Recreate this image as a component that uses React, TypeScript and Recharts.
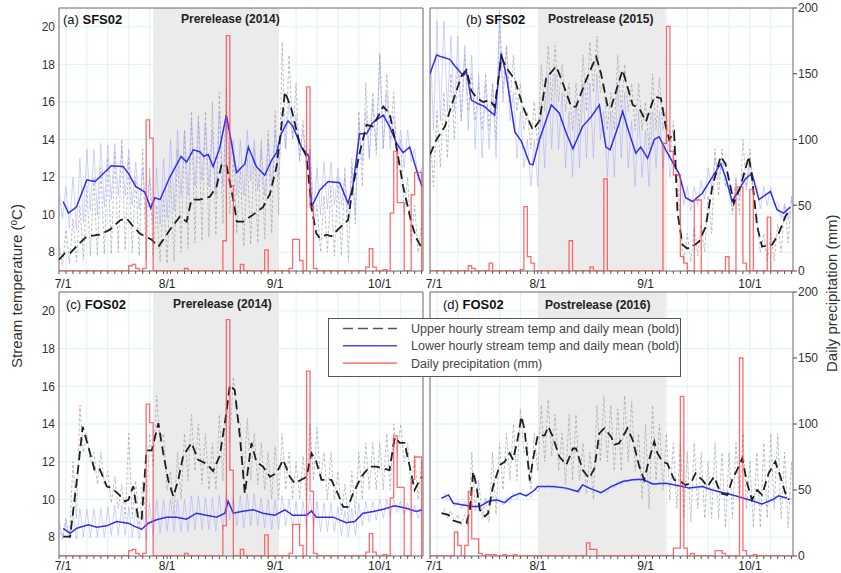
import React from 'react';
import { LineChart, Line, XAxis, YAxis, CartesianGrid, ReferenceArea, Legend } from 'recharts';

const FONT = '"Liberation Sans", Arial, Helvetica, sans-serif';

// ---- axes (x = days since July 1) ----
const X_DOMAIN: [number, number] = [0, 104.4];
const MONTH_TICKS = [0, 31, 62, 92];
const MONTH_LABELS = ['7/1', '8/1', '9/1', '10/1'];
const TEMP_TICKS = [8, 10, 12, 14, 16, 18, 20];
const PRECIP_TICKS = [0, 50, 100, 150, 200];
const HOURLY_STEP = 2;

// ---- shaded release periods (days since July 1) ----
const SHADE_2014: [number, number] = [27, 63.1];
const SHADE_POST: [number, number] = [31, 67.7];

// ---- (a) SFS02 2014 ----
const aUpperMean: [number, number][] = [[0,7.6],[1.7,7.95],[3.2,7.95],[6,8.5],[8,8.85],[11.7,8.93],[14.6,9.2],[17.5,9.7],[19.4,9.8],[21.3,9.37],[23.2,9.0],[24.6,8.85],[26.6,8.66],[28.5,8.3],[29.9,8.66],[31.8,9.2],[34.7,9.9],[36.6,9.63],[38,10.8],[40.4,10.8],[43.3,10.96],[45.2,11.5],[46.6,12.65],[48,12.65],[50,10.8],[51,9.63],[52.8,9.63],[55.7,10.0],[58.5,10.4],[60.5,11.1],[62.4,12.56],[63.8,14.7],[64.8,16.55],[66.7,15.6],[69,13.8],[71,13.1],[72.4,10.4],[73.8,9.0],[74.8,8.75],[76.7,8.93],[78.1,8.85],[80.5,9.3],[82.9,9.7],[84.3,11.5],[86.2,13.27],[88.2,14.78],[90,14.7],[93,15.75],[94.8,15.4],[96.8,13.6],[98.7,11.5],[101.1,9.55],[102.5,8.75],[104.1,8.2]];
const aLowerMean: [number, number][] = [[1.2,10.7],[2.7,10.08],[5,10.4],[8,11.85],[10.3,11.76],[11.7,12.0],[15,12.6],[18.4,12.56],[19.9,12.2],[22,11.5],[24.6,11.2],[26.3,10.35],[27.5,10.9],[29,10.8],[31.8,12.0],[35,13.1],[36.6,12.8],[38.5,13.45],[40.4,13.35],[41.5,13.1],[42.8,13.2],[44.2,12.56],[46.1,13.55],[48,15.3],[49.5,13.8],[50.9,12.24],[53.3,12.7],[54.3,13.6],[56.6,12.56],[59,12.1],[61,12.9],[62.4,13.3],[63.8,14.33],[65.7,15.0],[67.1,14.7],[69.5,13.6],[71.7,13.1],[72.4,10.4],[74.8,11.3],[77.2,11.76],[80.5,11.7],[82.9,10.6],[84.3,11.5],[86.2,14.3],[88.2,14.3],[90,14.9],[93,15.3],[94.8,14.7],[96.8,13.8],[98.7,13.3],[100.6,13.6],[102.5,12.4],[104.1,11.5]];
const aUpperHi = [8.5,9.2,9.8,10.5,11.5,12.0,12.5,13.0,13.3,14.0,13.0,12.0,13.5,12.5,10.5,11.0,12.0,13.5,14.5,15.5,15.3,15.5,16.0,16.5,16.8,13.0,12.5,13.0,13.5,14.0,14.5,15.5,19.2,18.5,17.0,15.0,13.5,10.5,11.0,11.5,12.0,12.5,13.0,15.5,17.0,16.5,18.6,17.5,16.5,14.0,12.0,10.5,9.5];
const aUpperLo = [7.3,7.4,7.5,7.6,7.8,7.8,7.9,7.9,8.0,8.1,8.0,7.8,7.6,7.8,7.5,7.4,7.5,8.0,8.2,8.5,8.6,8.8,8.9,9.5,10.0,9.0,8.3,8.4,8.5,8.7,9.0,10.0,13.5,14.0,12.8,12.5,9.5,8.0,8.0,7.8,7.8,7.5,9.5,11.5,13.0,13.2,13.5,14.0,12.5,10.0,8.5,8.0,7.9];
const aLowerHi = [11.3,11.5,12.0,13.0,13.5,13.5,13.8,13.7,13.8,13.6,13.5,12.8,12.5,12.0,12.5,13.0,14.0,14.5,14.5,15.0,15.0,14.8,14.5,15.5,15.5,14.0,14.0,14.5,14.0,13.5,14.0,14.5,15.5,16.0,15.3,14.5,13.5,12.5,12.8,12.8,12.5,12.0,12.5,15.0,15.5,16.0,18.5,16.5,15.3,14.5,14.5,13.5,12.5];
const aLowerLo = [9.8,9.3,9.2,9.6,10.2,10.0,10.4,10.8,11.0,11.0,10.5,10.3,10.0,9.5,9.5,9.8,10.2,11.0,11.0,11.5,11.8,11.5,11.0,11.5,12.5,11.0,11.0,11.8,11.3,11.0,11.5,12.0,13.5,14.0,13.0,12.5,10.3,10.0,10.3,10.5,10.5,9.8,10.0,12.8,13.0,13.5,13.5,13.5,13.0,12.5,12.8,11.8,11.0];

// ---- (b) SFS02 2015 ----
const bUpperMean: [number, number][] = [[0,13.2],[1.9,14.0],[4.3,14.7],[6.7,16.1],[9.1,17.4],[10.5,17.7],[11.9,16.6],[13.4,16.2],[15.3,16.0],[17.2,16.1],[18.6,15.75],[20.5,18.4],[22,17.8],[24.4,17.2],[26.7,15.75],[29.6,14.5],[31.5,15.0],[33.4,17.26],[36.3,17.9],[38.2,17.0],[40.6,15.75],[42,15.75],[44.9,17.17],[47.8,18.4],[49.2,17.5],[51.1,15.75],[52,15.66],[55.4,17.7],[58.3,15.84],[60.2,15.66],[62.1,14.95],[64.5,16.28],[66.4,16.2],[67.8,14.7],[68.8,14.0],[70.2,14.4],[71.2,10.1],[72.6,8.4],[74,8.2],[75.5,8.3],[77.4,8.57],[79.3,9.37],[81.2,11.5],[83.6,13.1],[85,12.7],[86.4,11.5],[87.4,10.6],[89.3,11.5],[91.7,13.1],[92.6,12.0],[94.1,9.37],[95.5,8.3],[98.4,8.4],[100.3,9.0],[102.2,9.9],[103.6,10.26]];
const bLowerMean: [number, number][] = [[0,17.5],[1.9,18.5],[3.3,18.4],[5.7,18.27],[7.2,17.9],[9.6,17.4],[10.5,17.6],[11.9,16.1],[13.8,15.9],[15.8,15.75],[17.2,15.5],[18.6,15.3],[20.5,18.6],[22,17.35],[24.4,14.4],[26.3,13.9],[28.7,12.7],[29.6,12.65],[31.5,14.0],[34.9,15.84],[37.2,15.4],[39.2,14.33],[41.1,13.5],[43.9,14.7],[46.3,15.2],[48.7,15.84],[50.6,13.6],[51.8,13.45],[54.4,14.87],[55.4,15.5],[57.3,14.33],[59.2,13.27],[60.6,13.6],[62.6,13.0],[64.5,14.0],[65.9,14.15],[67.8,13.45],[70.2,12.65],[71.6,12.2],[73.5,10.9],[75.5,10.7],[78.3,11.14],[81.2,12.0],[83.6,12.7],[85,12.0],[86.9,10.7],[88.8,11.3],[90.7,11.9],[92.6,12.2],[94.6,10.8],[96.5,11.05],[97.9,11.23],[99.8,10.26],[101.7,10.08],[103.6,10.4]];
const bUpperHi = [14.5,15.5,16.5,17.5,18.0,18.5,17.5,17.0,17.5,17.0,20.5,19.0,18.5,17.0,15.5,16.0,18.0,19.0,19.0,18.0,17.0,17.0,18.5,19.2,19.5,17.0,16.5,18.5,18.0,17.0,17.0,16.0,17.5,17.3,15.5,15.0,9.5,9.0,9.3,9.5,11.0,13.5,13.5,12.0,12.0,14.0,13.5,10.0,9.0,9.0,9.5,10.5,11.0];
const bUpperLo = [11.5,12.5,13.0,14.0,15.0,15.5,15.0,14.5,14.5,14.0,16.5,16.0,15.5,14.5,13.5,13.5,15.5,16.0,16.0,15.5,14.5,14.5,15.5,16.5,16.5,14.5,14.5,15.5,15.5,14.5,14.5,13.5,14.5,14.5,13.0,12.5,7.5,7.5,7.8,8.0,9.0,11.0,11.5,10.0,10.0,11.5,11.0,8.0,7.5,7.5,8.0,8.5,9.0];
const bLowerHi = [19.5,20.3,20.3,19.5,19.5,19.0,18.5,17.5,17.0,17.0,20.8,19.0,16.5,15.5,14.0,14.0,16.0,17.5,17.5,16.5,15.5,16.0,17.0,17.0,17.5,15.5,15.5,17.0,16.5,15.0,15.5,14.5,15.5,15.5,14.5,13.5,12.0,11.5,11.5,11.8,12.5,13.0,12.8,11.5,11.8,12.3,12.8,11.5,11.5,11.5,10.7,10.6,10.8];
const bLowerLo = [14.5,15.0,15.5,15.5,15.0,14.5,13.5,13.0,13.5,13.0,16.0,15.0,13.0,12.5,11.5,11.5,12.5,13.5,13.5,12.5,12.0,12.5,13.0,13.0,14.0,12.0,12.0,13.0,12.5,11.5,12.0,11.5,12.5,12.5,12.0,11.8,10.5,10.2,10.5,10.8,11.5,12.0,11.5,10.2,10.8,11.3,11.5,10.3,10.5,10.5,9.8,9.7,10.0];

// ---- (c) FOS02 2014 ----
const cUpperMean: [number, number][] = [[1.2,8.03],[3.2,8.03],[5.1,11.0],[6.8,13.86],[8.4,12.8],[10.3,11.5],[11.7,11.6],[13.7,10.7],[15.1,10.6],[17,10.3],[18.9,9.9],[19.9,9.98],[21.3,10.7],[22.7,9.0],[23.7,8.92],[25.1,12.6],[26.6,12.6],[28.5,14.04],[29.9,12.45],[31.3,11.04],[32.8,10.15],[34.2,11.04],[35.6,12.3],[38,13.0],[39.9,12.1],[42.3,11.9],[44.2,11.5],[46.1,12.3],[48,14.57],[49,16.07],[50.4,15.8],[51.9,13.3],[53.3,10.3],[55.2,13.0],[56.6,12.0],[58.5,11.74],[60.5,11.2],[62.4,11.4],[64.3,12.1],[66.2,11.2],[67.6,10.86],[69.5,11.04],[71,11.2],[72.4,12.45],[73.8,12.0],[75.3,11.04],[78.1,11.04],[80,10.3],[81.5,9.6],[82.9,9.6],[84.3,10.3],[86.7,11.2],[89.1,11.74],[91,11.74],[94.8,11.56],[96.3,13.3],[97.7,13.0],[99.1,13.0],[100.6,11.74],[102,10.5],[103,10.86],[104.1,11.2]];
const cLowerMean: [number, number][] = [[1.2,8.47],[3.2,8.2],[5.1,8.47],[8.4,8.65],[10.8,8.53],[13.7,8.6],[16.5,8.83],[19.9,8.74],[21.8,8.56],[23.7,8.42],[25.6,8.74],[28,8.92],[30.8,9.06],[33.7,9.06],[36.6,8.95],[39.4,9.27],[42.3,9.16],[45.2,9.06],[47.6,9.27],[48.5,9.9],[50,9.27],[52.3,9.36],[55.7,9.45],[58.5,9.27],[61.9,9.16],[64.8,9.45],[67.1,9.16],[71,9.16],[72.4,9.39],[73.8,9.06],[78.6,9.06],[82.4,8.77],[84.8,8.83],[87.2,9.27],[90.1,9.36],[93,9.48],[96.3,9.66],[99.6,9.53],[102.5,9.36],[104.1,9.45]];
const cUpperHi = [8.5,9.0,12.0,15.0,13.5,12.5,12.5,11.5,11.2,10.8,13.5,11.0,11.0,13.5,15.5,13.5,11.5,12.5,13.5,14.5,14.0,13.5,13.0,14.5,15.5,16.5,14.0,14.3,13.5,13.0,12.5,12.8,13.5,12.5,12.0,12.3,14.0,13.8,12.5,12.5,11.5,10.8,11.5,12.5,13.0,13.0,13.0,13.5,14.0,14.0,13.0,12.4,12.0];
const cUpperLo = [7.9,7.9,9.0,12.5,12.0,10.8,10.8,9.8,9.5,9.0,9.0,8.5,8.8,11.8,13.0,10.5,9.2,10.0,11.0,11.5,10.8,10.5,10.5,11.0,13.0,14.5,11.0,11.0,10.8,10.5,10.0,10.0,10.5,10.0,10.0,10.0,11.0,11.0,10.0,10.0,9.2,8.8,9.2,10.0,10.5,10.5,10.5,10.5,12.5,12.0,10.5,10.0,10.5];
const cLowerHi = [8.9,8.8,9.3,9.5,9.5,9.5,9.5,9.6,9.7,9.7,9.6,9.5,9.4,9.8,10.0,10.0,10.0,10.0,10.0,10.2,10.2,10.1,10.1,10.2,10.3,10.1,10.2,10.3,10.3,10.1,10.0,10.0,10.2,10.0,9.9,9.9,10.3,9.9,9.8,9.8,9.6,9.4,9.5,9.8,9.9,9.9,10.0,10.0,10.0,9.9,9.8,9.7,9.6];
const cLowerLo = [8.0,7.9,7.9,8.0,8.0,8.0,8.0,8.1,8.1,8.1,8.0,7.9,7.9,8.1,8.2,8.3,8.3,8.3,8.3,8.4,8.4,8.4,8.3,8.4,8.9,8.6,8.5,8.6,8.6,8.5,8.4,8.4,8.6,8.5,8.4,8.4,8.5,8.3,8.3,8.3,8.1,8.0,8.1,8.6,8.8,8.9,9.0,9.1,9.3,9.2,9.1,9.0,9.1];

// ---- (d) FOS02 2016 ----
const dUpperMean: [number, number][] = [[3.3,9.27],[5.3,9.18],[6.7,8.88],[8.6,8.77],[10.5,8.74],[11.5,9.45],[12.4,11.48],[13.4,10.68],[14.3,9.45],[15.8,9.1],[16.7,9.27],[18.1,10.68],[20.1,11.83],[21.5,12.0],[22.9,12.45],[23.9,12.1],[25.3,13.3],[26.3,14.4],[27.2,13.7],[28.7,11.0],[29.6,12.1],[31,13.4],[33,13.4],[34,13.86],[35.3,13.33],[37.2,12.27],[39.2,11.83],[41.1,12.7],[42,12.7],[43.9,11.56],[45.8,11.12],[47.3,11.65],[48.7,13.5],[50.1,13.77],[52.1,13.33],[53,12.9],[54.4,12.98],[56.8,13.77],[58.3,13.15],[60.2,11.74],[61.6,11.04],[63,12.1],[64.5,13.07],[65.4,12.45],[66.9,12.0],[68.3,11.9],[70.2,11.04],[72.1,10.95],[73.5,10.77],[75,10.86],[76.4,11.39],[78.3,11.04],[79.8,10.68],[81.7,11.2],[83.6,10.33],[85.5,10.24],[86.9,11.04],[88.8,11.74],[89.8,12.18],[91.2,10.86],[92.6,9.98],[94.1,10.5],[95.5,10.24],[97.4,11.39],[99.3,12.0],[100.8,11.2],[102.2,10.33],[103.2,9.98]];
const dLowerMean: [number, number][] = [[3.3,10.06],[5.3,10.24],[6.7,9.8],[9.6,9.71],[12.4,9.62],[14.3,9.62],[16.7,9.89],[19.1,9.98],[21.5,9.83],[23.5,10.15],[25.8,10.33],[27.7,10.19],[30.1,10.5],[31,10.68],[35.3,10.68],[39.2,10.6],[42.5,10.42],[43.9,10.77],[45.8,10.6],[49.2,10.36],[52.1,10.68],[55.4,10.95],[58.3,11.04],[61.1,11.07],[64,10.82],[67.8,10.86],[71.6,10.72],[74.5,10.6],[78.3,10.68],[81.2,10.5],[85,10.33],[88.8,10.15],[91.7,9.98],[95.5,9.76],[98.4,9.98],[100.3,10.19],[102.7,10.06]];
const dUpperHi = [9.5,9.4,9.2,9.2,12.5,11.0,10.0,12.5,13.0,13.5,14.0,14.8,13.0,13.5,15.0,15.3,14.5,13.5,14.5,14.5,13.0,12.5,15.0,15.5,15.0,14.8,15.5,15.2,13.5,14.0,15.0,14.0,13.5,13.0,13.0,12.5,13.0,12.5,12.0,13.0,12.5,12.5,13.0,13.5,12.0,12.5,13.0,13.5,13.5,12.5,12.0];
const dUpperLo = [9.0,8.8,8.6,8.6,9.5,9.0,8.8,9.2,10.5,11.0,11.0,12.5,10.5,11.5,12.0,12.3,11.5,10.8,11.0,11.0,10.3,10.0,12.0,12.0,11.5,11.5,12.0,11.5,10.0,9.5,11.0,10.5,10.0,9.5,9.0,8.8,9.5,9.0,9.0,9.0,8.5,9.0,10.0,9.5,8.5,8.5,9.0,9.5,9.0,8.5,8.5];
const dLowerHi = [10.4,10.0,9.9,9.9,9.8,9.8,10.1,10.2,10.0,10.1,10.3,10.4,10.3,10.6,10.75,10.75,10.75,10.7,10.6,10.5,10.8,10.65,10.45,10.5,10.75,10.95,11.05,11.1,11.1,11.05,10.9,10.95,10.9,10.8,10.75,10.65,10.65,10.75,10.6,10.5,10.4,10.3,10.2,10.1,10.05,9.85,9.8,10.05,10.25,10.15,10.05];
const dLowerLo = [9.9,9.6,9.5,9.5,9.4,9.4,9.7,9.8,9.7,9.8,10.0,10.2,10.1,10.4,10.6,10.6,10.6,10.5,10.45,10.35,10.65,10.5,10.3,10.35,10.6,10.8,10.9,10.95,10.95,10.9,10.75,10.8,10.75,10.65,10.6,10.5,10.5,10.6,10.45,10.35,10.25,10.15,10.05,9.95,9.9,9.7,9.65,9.9,10.1,10.0,9.9];

// ---- daily precipitation (mm), days with rain; other days are 0 ----
const precip2014: [number, number][] = [[20,4],[21,5],[22,2],[24,2],[25,115],[26,101],[36,2],[47,23],[48,179],[49,65],[52,5],[59,16],[66,2],[67,24],[68,24],[69,8],[71,140],[72,49],[73,2],[88,3],[89,17],[90,3],[93,1],[95,44],[96,91],[97,52],[98,52],[101,58],[102,75],[103,75]];
const precip2015: [number, number][] = [[11,4],[12,2],[17,6],[26,1],[27,49],[28,11],[29,6],[40,23],[46,3],[50,70],[67,97],[68,186],[69,91],[70,73],[71,73],[72,11],[73,6],[76,54],[77,54],[85,11],[88,64],[89,64],[90,6],[92,62],[97,41]];
const precip2016: [number, number][] = [[7,18],[8,8],[10,8],[11,49],[12,13],[13,13],[14,2],[16,1],[17,1],[18,1],[21,1],[24,1],[45,10],[46,5],[47,5],[70,6],[71,6],[72,121],[73,6],[75,2],[82,4],[83,4],[84,2],[89,150],[90,4],[93,1]];

// ---- legend ----
const LEGEND_ITEMS = [
  { label: 'Upper hourly stream temp and daily mean (bold)', color: '#555555', dash: '10 5' },
  { label: 'Lower hourly stream temp and daily mean (bold)', color: '#4a4aff', dash: undefined },
  { label: 'Daily precipitation (mm)', color: '#ff8080', dash: undefined },
];

// ---- builders ----
const meanSeries = (pts: [number, number][]) => pts.map(([d, v]) => ({ d, v }));
const hourlySeries = (start: number, hi: number[], lo: number[]) => {
  const out: { d: number; h: number }[] = [];
  hi.forEach((h, k) => {
    out.push({ d: start + HOURLY_STEP * k, h });
    out.push({ d: start + HOURLY_STEP * k + 1, h: lo[k] });
  });
  return out;
};
const precipSeries = (pairs: [number, number][]) => {
  const m = new Map(pairs);
  const out: { d: number; p: number }[] = [];
  for (let d = 0; d <= 105; d++) out.push({ d, p: m.get(d) ?? 0 });
  return out;
};

const X_TICKS = Array.from(new Set([...Array.from({ length: 53 }, (_, i) => i * 2), ...MONTH_TICKS])).sort((a, b) => a - b);
const GRID_X = Array.from({ length: 17 }, (_, i) => 2 + i * 6);
const GRID_Y = Array.from({ length: 13 }, (_, i) => 8 + i);

const renderXTick = (props: any) => {
  const { x, y, payload } = props;
  const i = MONTH_TICKS.indexOf(payload.value);
  if (i < 0) return <g />;
  return (
    <text x={x + (i === 0 ? 4 : 0)} y={y} dy="0.71em" textAnchor="middle" fontSize={12} fill="#222" fontFamily={FONT}>
      {MONTH_LABELS[i]}
    </text>
  );
};

const LegendBox = () => (
  <svg width={353} height={59} style={{ display: 'block' }}>
    <rect x={0.5} y={0.5} width={352} height={58} fill="#fff" stroke="#555" strokeWidth={1} />
    {LEGEND_ITEMS.map((it, i) => {
      const cy = 10.5 + i * 17.3;
      return (
        <g key={it.label}>
          <line x1={15} x2={69} y1={cy} y2={cy} stroke={it.color} strokeWidth={1.6} strokeDasharray={it.dash} />
          <text x={83} y={cy + 4.5} fontSize={12.5} fill="#444" fontFamily={FONT}>{it.label}</text>
        </g>
      );
    })}
  </svg>
);

type PanelProps = {
  left: number; top: number; height: number; xAxisHeight: number; tickMargin: number;
  showLeft: boolean; showRight: boolean; shade: [number, number];
  upperMean: [number, number][]; lowerMean: [number, number][];
  upperHi: number[]; upperLo: number[]; lowerHi: number[]; lowerLo: number[]; hourlyStart: number;
  precip: [number, number][]; legend?: boolean;
};

function Panel(p: PanelProps) {
  const width = p.showLeft ? 424 : 421;
  return (
    <div style={{ position: 'absolute', left: p.left, top: p.top }}>
      <LineChart width={width} height={p.height} margin={{ top: 8, right: p.showLeft ? 1 : 4, bottom: 0, left: p.showLeft ? 19 : 10 }}>
        <XAxis xAxisId="x" type="number" dataKey="d" domain={X_DOMAIN} allowDataOverflow ticks={X_TICKS} interval={0}
          tick={renderXTick} tickSize={3} tickMargin={p.tickMargin} axisLine={false} tickLine={{ stroke: '#555' }} height={p.xAxisHeight} />
        <YAxis yAxisId="t" type="number" domain={[7, 21]} allowDataOverflow ticks={TEMP_TICKS} hide={!p.showLeft} width={40}
          tickSize={0} tickMargin={4} axisLine={false} tickLine={false} tick={{ fontSize: 12, fill: '#333', fontFamily: FONT }} />
        <YAxis yAxisId="p" orientation="right" type="number" domain={[0, 200]} allowDataOverflow ticks={PRECIP_TICKS} hide={!p.showRight} width={44}
          tickSize={4} tickMargin={1} axisLine={false} tickLine={{ stroke: '#444' }} tick={{ fontSize: 12, fill: '#333', fontFamily: FONT, textAnchor: 'start' }} />
        <ReferenceArea xAxisId="x" yAxisId="t" x1={p.shade[0]} x2={p.shade[1]} y1={7} y2={21} fill="#ebebeb" fillOpacity={1} stroke="none" />
        <CartesianGrid xAxisId="x" yAxisId="t" stroke="#dcf3f6" strokeWidth={1} horizontalValues={GRID_Y} verticalValues={GRID_X} />
        <Line xAxisId="x" yAxisId="t" data={hourlySeries(p.hourlyStart, p.upperHi, p.upperLo)} dataKey="h" type="linear"
          stroke="#a3a3a3" strokeWidth={0.7} strokeDasharray="3 2" dot={false} activeDot={false} isAnimationActive={false} />
        <Line xAxisId="x" yAxisId="t" data={hourlySeries(p.hourlyStart, p.lowerHi, p.lowerLo)} dataKey="h" type="linear"
          stroke="#9d9dff" strokeOpacity={0.65} strokeWidth={0.7} dot={false} activeDot={false} isAnimationActive={false} />
        <Line xAxisId="x" yAxisId="t" data={meanSeries(p.lowerMean)} dataKey="v" type="linear"
          stroke="#3030f0" strokeWidth={1.5} dot={false} activeDot={false} isAnimationActive={false} />
        <Line xAxisId="x" yAxisId="t" data={meanSeries(p.upperMean)} dataKey="v" type="linear"
          stroke="#1e1e1e" strokeWidth={1.8} strokeDasharray="9 5" dot={false} activeDot={false} isAnimationActive={false} />
        <Line xAxisId="x" yAxisId="p" data={precipSeries(p.precip)} dataKey="p" type="stepAfter"
          stroke="#ff3b3b" strokeOpacity={0.75} strokeWidth={1.3} dot={false} activeDot={false} isAnimationActive={false} />
        <ReferenceArea xAxisId="x" yAxisId="t" x1={X_DOMAIN[0]} x2={X_DOMAIN[1]} y1={7} y2={21} fill="none" stroke="#666" strokeWidth={1} />
        {p.legend ? (
          <Legend layout="vertical" align="center" verticalAlign="middle"
            wrapperStyle={{ left: -92, top: 34, width: 353, height: 59 }} content={() => <LegendBox />} />
        ) : null}
      </LineChart>
    </div>
  );
}

const Overlay = () => (
  <svg width={841} height={573} style={{ position: 'absolute', left: 0, top: 0, pointerEvents: 'none' }} fontFamily={FONT}>
    <text x={63} y={23.5} fontSize={13} fill="#111">(a) <tspan fontWeight="bold">SFS02</tspan></text>
    <text x={181} y={23} fontSize={12} fontWeight="bold" fill="#222">Prerelease (2014)</text>
    <text x={466} y={23.5} fontSize={13} fill="#111">(b) <tspan fontWeight="bold">SFS02</tspan></text>
    <text x={548} y={23} fontSize={12} fontWeight="bold" fill="#222">Postrelease (2015)</text>
    <text x={66} y={308.5} fontSize={13} fill="#111">(c) <tspan fontWeight="bold">FOS02</tspan></text>
    <text x={173} y={308} fontSize={12} fontWeight="bold" fill="#222">Prerelease (2014)</text>
    <text x={443} y={309} fontSize={13} fill="#111">(d) <tspan fontWeight="bold">FOS02</tspan></text>
    <text x={545} y={308.5} fontSize={12} fontWeight="bold" fill="#222">Postrelease (2016)</text>
    <text x={22} y={368} fontSize={15} fill="#333" transform="rotate(-90 22 368)">
      Stream temperature (<tspan dy={-5} fontSize={10}>o</tspan><tspan dy={5}>C)</tspan>
    </text>
    <text x={837} y={372} fontSize={15} fill="#333" transform="rotate(-90 837 372)">Daily precipitation (mm)</text>
  </svg>
);

export default function App() {
  return (
    <div style={{ position: 'absolute', left: 0, top: 0, width: 841, height: 573, background: '#fff', overflow: 'hidden' }}>
      <Panel left={0} top={0} height={295} xAxisHeight={24} tickMargin={5} showLeft showRight={false} shade={SHADE_2014}
        upperMean={aUpperMean} lowerMean={aLowerMean} upperHi={aUpperHi} upperLo={aUpperLo} lowerHi={aLowerHi} lowerLo={aLowerLo}
        hourlyStart={0} precip={precip2014} />
      <Panel left={420} top={0} height={295} xAxisHeight={24} tickMargin={5} showLeft={false} showRight shade={SHADE_POST}
        upperMean={bUpperMean} lowerMean={bLowerMean} upperHi={bUpperHi} upperLo={bUpperLo} lowerHi={bLowerHi} lowerLo={bLowerLo}
        hourlyStart={0} precip={precip2015} />
      <Panel left={0} top={284} height={289} xAxisHeight={17} tickMargin={2} showLeft showRight={false} shade={SHADE_2014}
        upperMean={cUpperMean} lowerMean={cLowerMean} upperHi={cUpperHi} upperLo={cUpperLo} lowerHi={cLowerHi} lowerLo={cLowerLo}
        hourlyStart={0} precip={precip2014} />
      <Panel left={420} top={284} height={289} xAxisHeight={17} tickMargin={2} showLeft={false} showRight shade={SHADE_POST}
        upperMean={dUpperMean} lowerMean={dLowerMean} upperHi={dUpperHi} upperLo={dUpperLo} lowerHi={dLowerHi} lowerLo={dLowerLo}
        hourlyStart={4} precip={precip2016} legend />
      <Overlay />
    </div>
  );
}
